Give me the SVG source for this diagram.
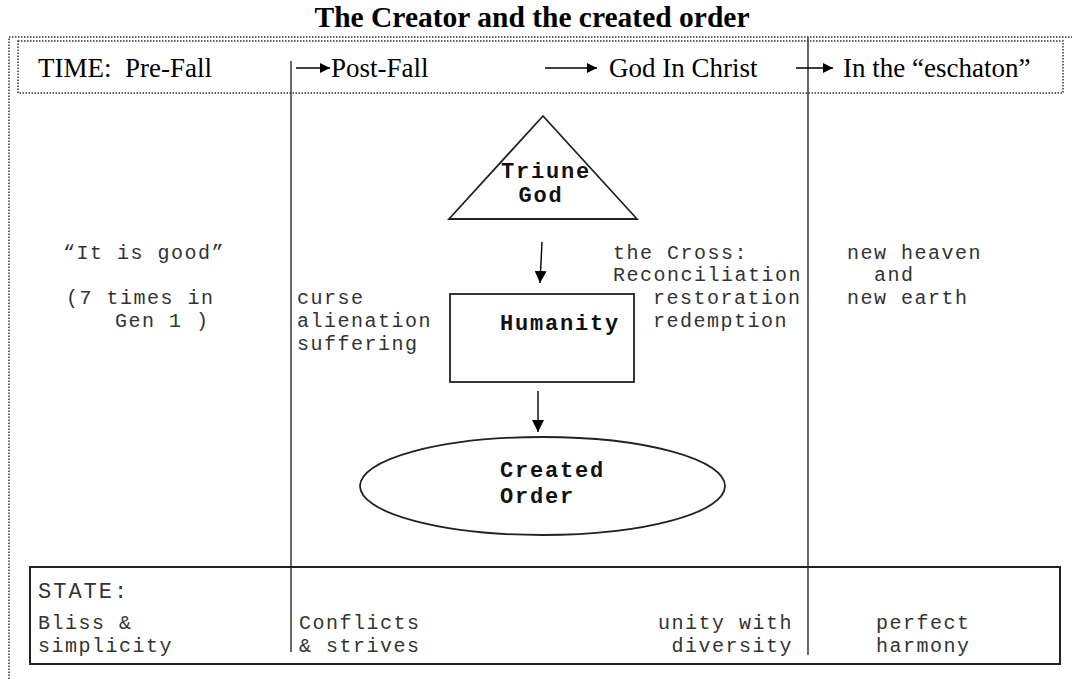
<svg xmlns="http://www.w3.org/2000/svg" width="1072" height="679" viewBox="0 0 1072 679">
<defs>
<marker id="ah" viewBox="0 0 10 10" refX="10" refY="5" markerWidth="10" markerHeight="10" markerUnits="userSpaceOnUse" orient="auto">
<path d="M0,0 L10,5 L0,10 z" fill="#000"/>
</marker>
<marker id="ah2" viewBox="0 0 10 10" refX="10" refY="5" markerWidth="12" markerHeight="12" markerUnits="userSpaceOnUse" orient="auto">
<path d="M0,0 L10,5 L0,10 z" fill="#000"/>
</marker>
</defs>
<style>
.serif{font-family:"Liberation Serif","Times New Roman",serif;fill:#000}
.mono{font-family:"Liberation Mono","Courier New",monospace;font-size:20px;letter-spacing:1.5px;fill:#333}
.bold{font-family:"Liberation Mono","Courier New",monospace;font-size:22px;letter-spacing:1.8px;font-weight:bold;fill:#111}
.dot{fill:none;stroke:#333;stroke-width:1.5;stroke-dasharray:1.5 1.5}
.shape{fill:#fff;stroke:#222;stroke-width:1.8}
.vline{stroke:#444;stroke-width:1.6}
.conn{stroke:#000;stroke-width:1.4;fill:none}
</style>
<rect width="1072" height="679" fill="#fff"/>
<text class="serif" x="532" y="27" font-size="29.5" font-weight="bold" text-anchor="middle">The Creator and the created order</text>
<g id="frame">
<path class="dot" d="M9,679 L9,37 L1072,37"/>
<rect class="dot" x="18" y="41" width="1045" height="52"/>
</g>
<g id="time">
<text class="serif" font-size="27" x="38" y="77" xml:space="preserve">TIME:  Pre-Fall</text>
<text class="serif" font-size="27" x="331" y="77">Post-Fall</text>
<text class="serif" font-size="27" x="609" y="77">God In Christ</text>
<text class="serif" font-size="27" x="843" y="77">In the “eschaton”</text>
</g>
<g id="dividers">
<line class="vline" x1="291" y1="61" x2="291" y2="652"/>
<line class="vline" x1="808" y1="37" x2="808" y2="655"/>
</g>
<g id="connectors">
<line class="conn" x1="296" y1="68" x2="330" y2="68" marker-end="url(#ah)"/>
<line class="conn" x1="545" y1="68" x2="597" y2="68" marker-end="url(#ah)"/>
<line class="conn" x1="796" y1="68" x2="833" y2="68" marker-end="url(#ah)"/>
<line class="conn" x1="542" y1="242" x2="540" y2="283" marker-end="url(#ah2)"/>
<line class="conn" x1="538" y1="391" x2="538" y2="432" marker-end="url(#ah2)"/>
</g>
<g id="triune-god">
<polygon class="shape" points="543,116 449,219 637,219"/>
<text class="bold" x="546" y="178" text-anchor="middle">Triune</text>
<text class="bold" x="541" y="202" text-anchor="middle">God</text>
</g>
<g id="humanity">
<rect class="shape" x="450" y="294" width="184" height="88"/>
<text class="bold" x="500" y="330">Humanity</text>
</g>
<g id="created-order">
<ellipse class="shape" cx="542.5" cy="486" rx="182.5" ry="49"/>
<text class="bold" x="500" y="477">Created</text>
<text class="bold" x="500" y="503">Order</text>
</g>
<g id="notes">
<text class="mono" x="63" y="259">“It is good”</text>
<text class="mono" x="66" y="304">(7 times in</text>
<text class="mono" x="115" y="327">Gen 1 )</text>
<text class="mono" x="297" y="304">curse</text>
<text class="mono" x="297" y="327">alienation</text>
<text class="mono" x="297" y="350">suffering</text>
<text class="mono" x="613" y="259">the Cross:</text>
<text class="mono" x="613" y="281">Reconciliation</text>
<text class="mono" x="653" y="304">restoration</text>
<text class="mono" x="653" y="327">redemption</text>
<text class="mono" x="847" y="259">new heaven</text>
<text class="mono" x="874" y="281">and</text>
<text class="mono" x="847" y="304">new earth</text>
</g>
<g id="state">
<rect fill="none" stroke="#222" stroke-width="2" x="30" y="567" width="1030" height="97"/>
<text class="mono" style="font-size:22px;letter-spacing:2px" x="38" y="598">STATE:</text>
<text class="mono" x="38" y="629">Bliss &amp;</text>
<text class="mono" x="38" y="652">simplicity</text>
<text class="mono" x="299" y="629">Conflicts</text>
<text class="mono" x="299" y="652">&amp; strives</text>
<text class="mono" x="793" y="629" text-anchor="end">unity with</text>
<text class="mono" x="793" y="652" text-anchor="end">diversity</text>
<text class="mono" x="876" y="629">perfect</text>
<text class="mono" x="876" y="652">harmony</text>
</g>
</svg>
